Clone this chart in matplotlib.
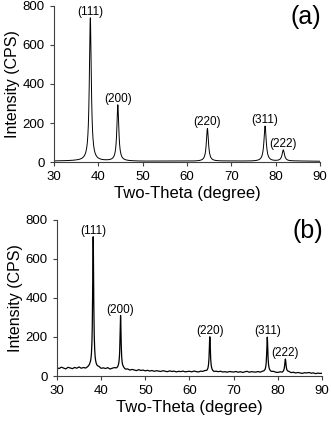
import numpy as np
import matplotlib
matplotlib.use('Agg')
import matplotlib.pyplot as plt

plt.rcParams['font.family'] = ['Liberation Sans', 'DejaVu Sans']

# peak positions (two-theta), hkl labels
centers = [38.2, 44.4, 64.6, 77.6, 81.7]
hkl = ['(111)', '(200)', '(220)', '(311)', '(222)']

# sample (a): peak heights above background, half widths
heights_a = [733, 287, 168, 180, 57]
hwhm_a = [0.26, 0.26, 0.28, 0.3, 0.32]
bg_x_a = [30, 35, 40, 45, 50, 55, 60, 65, 70, 75, 80, 85, 90]
bg_a = [5, 6, 5, 5, 4, 5, 4, 4, 5, 4, 4, 5, 4]

# sample (b): peak heights above background, half widths
heights_b = [675, 276, 178, 181, 68]
hwhm_b = [0.14, 0.14, 0.15, 0.15, 0.17]
# background of (b), every 0.5 degree from 30 to 90
bg_b = [42, 38, 45, 40, 36, 44, 41, 37, 43, 39,
        45, 38, 41, 36, 40, 43, 37, 40, 38, 42,
        35, 39, 36, 41, 34, 38, 40, 35, 37, 33,
        36, 31, 34, 29, 33, 30, 27, 32, 28, 30,
        26, 29, 25, 28, 24, 27, 25, 23, 27, 24,
        22, 26, 23, 25, 21, 24, 22, 25, 21, 23,
        24, 21, 25, 22, 20, 24, 22, 25, 21, 23,
        22, 19, 23, 21, 24, 20, 22, 19, 23, 21,
        20, 23, 19, 22, 18, 21, 24, 19, 22, 20,
        19, 22, 18, 21, 20, 17, 21, 19, 22, 18,
        17, 20, 16, 19, 18, 21, 16, 19, 15, 18,
        16, 13, 17, 15, 18, 14, 16, 12, 15, 13,
        14]
bg_x_b = np.arange(30, 90.01, 0.5)


def pattern(x, bx, by, heights, hwhm):
    y = np.interp(x, bx, by).astype(float)
    for c, h, w in zip(centers, heights, hwhm):
        y += h * w**2 / ((x - c)**2 + w**2)
    return y


def panel(ax, x, y, heights, bx, by, tag, lw):
    ax.plot(x, y, color='black', lw=lw)
    ax.set_xlim(30, 90)
    ax.set_ylim(0, 800)
    ax.set_xticks(range(30, 91, 10))
    ax.set_yticks(range(0, 801, 200))
    for s in ['top', 'right']:
        ax.spines[s].set_visible(False)
    for s in ['left', 'bottom']:
        ax.spines[s].set_linewidth(0.8)
        ax.spines[s].set_color('#404040')
    ax.tick_params(direction='out', length=3, width=0.8, labelsize=9.5,
                   color='#404040')
    ax.set_xlabel('Two-Theta (degree)', fontsize=12, labelpad=2)
    ax.set_ylabel('Intensity (CPS)', fontsize=11.5, labelpad=2)
    for c, h, lab in zip(centers, heights, hkl):
        top = np.interp(c, bx, by) + h
        ax.annotate(lab, xy=(c, top), xytext=(0, 0), textcoords='offset points',
                    ha='center', va='bottom', fontsize=8.5)
    ax.text(0.945, 0.93, tag, transform=ax.transAxes, ha='center',
            va='center', fontsize=18)


x = np.arange(30, 90.001, 0.05)
ya = pattern(x, bg_x_a, bg_a, heights_a, hwhm_a)
yb = pattern(x, bg_x_b, bg_b, heights_b, hwhm_b)

fig = plt.figure(figsize=(3.31, 4.22), dpi=100)
ax1 = fig.add_axes([0.163, 0.616, 0.804, 0.370])
ax2 = fig.add_axes([0.172, 0.109, 0.801, 0.370])
panel(ax1, x, ya, heights_a, bg_x_a, bg_a, '(a)', 0.7)
panel(ax2, x, yb, heights_b, bg_x_b, bg_b, '(b)', 0.9)

fig.savefig('out.png', dpi=100)
